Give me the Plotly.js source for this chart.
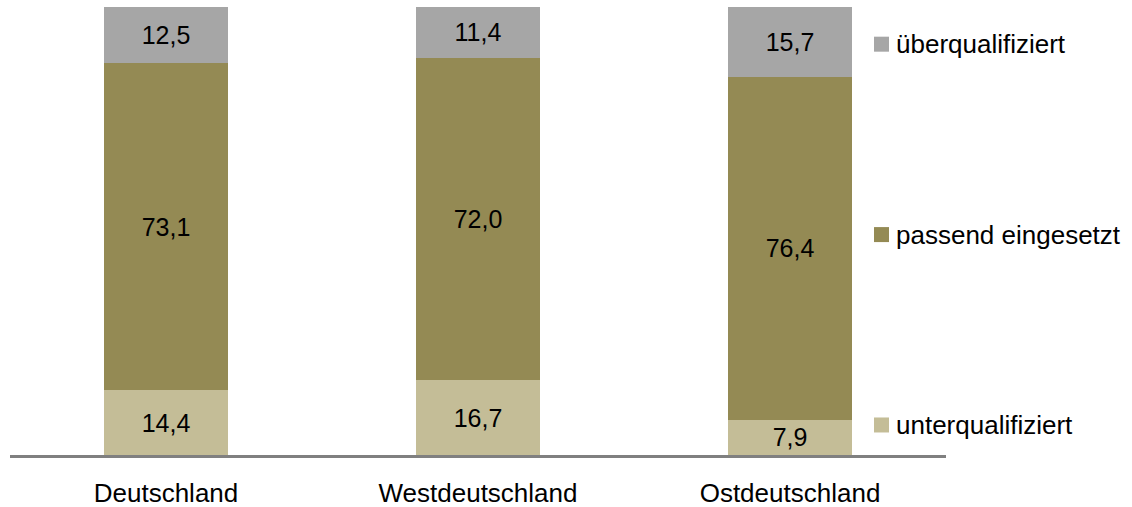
<!DOCTYPE html>
<html>
<head>
<meta charset="utf-8">
<script src="https://cdn.plot.ly/plotly-3.0.1.min.js"></script>
<style>html,body{margin:0;padding:0;background:#fff}#chart{width:1132px;height:507px}</style>
</head>
<body>
<div id="chart"></div>
<script>
const categories = ["Deutschland", "Westdeutschland", "Ostdeutschland"];
const unterqualifiziert = [14.4, 16.7, 7.9];
const passend = [73.1, 72.0, 76.4];
const ueberqualifiziert = [12.5, 11.4, 15.7];
const seriesNames = ["unterqualifiziert", "passend eingesetzt", "überqualifiziert"];
const seriesColors = ["#C4BD97", "#948A54", "#A6A6A6"];
const legendY = [6.7, 49.2, 91.7];

const fmt = v => v.toFixed(1).replace('.', ',');
const seriesValues = [unterqualifiziert, passend, ueberqualifiziert];
const FONT = "Liberation Sans, Arial, sans-serif";

const traces = seriesValues.map((vals, i) => ({
  type: 'bar',
  name: seriesNames[i],
  x: categories,
  y: vals,
  text: vals.map(fmt),
  textposition: 'inside',
  insidetextanchor: 'middle',
  textangle: 0,
  constraintext: 'none',
  textfont: {family: FONT, size: 25, color: '#000'},
  marker: {color: seriesColors[i], line: {width: 0}},
  hoverinfo: 'skip'
}));

const shapes = [], annotations = [];
seriesNames.forEach((n, i) => {
  shapes.push({
    type: 'rect', xref: 'paper', yref: 'y',
    x0: 0.9231, x1: 0.9391,
    ysizemode: 'pixel', yanchor: legendY[i], y0: -7.5, y1: 7.5,
    fillcolor: seriesColors[i], line: {width: 0}
  });
  annotations.push({
    xref: 'paper', yref: 'y', x: 0.9445, y: legendY[i],
    xanchor: 'left', yanchor: 'middle', showarrow: false,
    text: n, font: {family: FONT, size: 26, color: '#000'}
  });
});

const layout = {
  width: 1132, height: 507,
  margin: {l: 10, r: 186, t: 7, b: 52},
  barmode: 'stack',
  bargap: 0.6,
  showlegend: false,
  paper_bgcolor: '#fff', plot_bgcolor: '#fff',
  xaxis: {
    showline: true, linecolor: '#808080', linewidth: 3,
    ticks: '', showgrid: false, zeroline: false,
    tickfont: {family: FONT, size: 26, color: '#000'},
    ticklabelstandoff: 13
  },
  yaxis: {range: [0, 100], visible: false, showgrid: false, zeroline: false},
  shapes: shapes,
  annotations: annotations
};

Plotly.newPlot('chart', traces, layout, {displayModeBar: false, staticPlot: true});
</script>
</body>
</html>
